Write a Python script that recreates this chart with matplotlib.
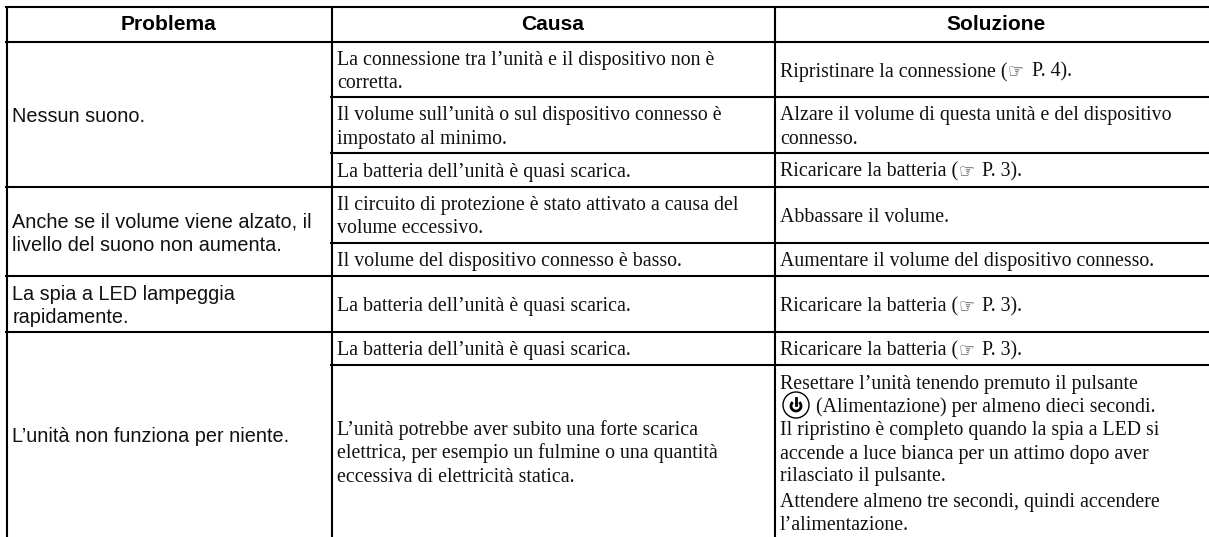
import matplotlib
matplotlib.use("Agg")
import matplotlib.pyplot as plt
from matplotlib.patches import Circle, Arc

# table layout (pixels)
col_lines = [6.5, 331.5, 775]
row_lines = [42, 97.3, 153, 186.7, 242.7, 276, 332, 365, 537]
full_rules = [6.7, 42, 186.7, 276, 332]
part_rules = [97.3, 153, 242.7, 365]
headers = ["Problema", "Causa", "Soluzione"]
header_x = [169, 553, 996]

problems = [
    ("Nessun suono.", 42, 186.7),
    ("Anche se il volume viene alzato, il\nlivello del suono non aumenta.", 186.7, 276),
    ("La spia a LED lampeggia\nrapidamente.", 276, 332),
    ("L’unità non funziona per niente.", 332, 537),
]
causes = [
    "La connessione tra l’unità e il dispositivo non è\ncorretta.",
    "Il volume sull’unità o sul dispositivo connesso è\nimpostato al minimo.",
    "La batteria dell’unità è quasi scarica.",
    "Il circuito di protezione è stato attivato a causa del\nvolume eccessivo.",
    "Il volume del dispositivo connesso è basso.",
    "La batteria dell’unità è quasi scarica.",
    "La batteria dell’unità è quasi scarica.",
    "L’unità potrebbe aver subito una forte scarica\nelettrica, per esempio un fulmine o una quantità\neccessiva di elettricità statica.",
]
solutions = [
    "Ripristinare la connessione (☞ P. 4).",
    "Alzare il volume di questa unità e del dispositivo\nconnesso.",
    "Ricaricare la batteria (☞ P. 3).",
    "Abbassare il volume.",
    "Aumentare il volume del dispositivo connesso.",
    "Ricaricare la batteria (☞ P. 3).",
    "Ricaricare la batteria (☞ P. 3).",
]
last_solution = [
    "Resettare l’unità tenendo premuto il pulsante",
    "(Alimentazione) per almeno dieci secondi.",
    "Il ripristino è completo quando la spia a LED si",
    "accende a luce bianca per un attimo dopo aver",
    "rilasciato il pulsante.",
    "Attendere almeno tre secondi, quindi accendere",
    "l’alimentazione.",
]
last_y = [381.7, 405, 428, 452, 474, 500, 523]

SERIF = "Liberation Serif"
SANS = "Liberation Sans"
FS = 14.3
PITCH = 23.5

fig = plt.figure(figsize=(12.09, 5.37), dpi=100)
ax = fig.add_axes([0, 0, 1, 1])
ax.set_xlim(0, 1209)
ax.set_ylim(537, 0)
ax.axis("off")
rend = fig.canvas.get_renderer()

lw = 1.5
for x in col_lines:
    ax.plot([x, x], [6.7, 537], color="black", lw=lw, solid_capstyle="butt")
for y in full_rules:
    ax.plot([5, 1209], [y, y], color="black", lw=lw, solid_capstyle="butt")
for y in part_rules:
    ax.plot([330, 1209], [y, y], color="black", lw=lw, solid_capstyle="butt")

# header
for x, h in zip(header_x, headers):
    ax.text(x, 22.5, h, family=SANS, weight="bold", fontsize=15.1, ha="center", va="center_baseline")


def put_line(x, y, txt, family):
    # the hand sign is smaller and greyer than the text, so it goes in pieces
    if "☞" not in txt:
        ax.text(x, y, txt, family=family, fontsize=FS, ha="left", va="center_baseline", color="#111111")
        return
    before, after = txt.split("☞")
    t = ax.text(x, y, before, family=family, fontsize=FS, ha="left", va="center_baseline", color="#111111")
    x1 = x + t.get_window_extent(rend).width
    ax.text(x1, y, "☞", family="DejaVu Sans", fontsize=13, ha="left", va="center_baseline", color="#333333")
    ax.text(x1 + 24, y, after.strip(), family=family, fontsize=FS, ha="left", va="center_baseline", color="#111111")


def draw_lines(x, y0, y1, txt, family):
    parts = txt.split("\n")
    mid = (y0 + y1) / 2
    for k, p in enumerate(parts):
        put_line(x, mid + (k - (len(parts) - 1) / 2) * PITCH, p, family)


for txt, y0, y1 in problems:
    draw_lines(12.5, y0, y1, txt, SANS)

for i, txt in enumerate(causes):
    draw_lines(337, row_lines[i], row_lines[i + 1], txt, SERIF)
for i, txt in enumerate(solutions):
    draw_lines(780, row_lines[i], row_lines[i + 1], txt, SERIF)

# last cell with the power button icon
for k, (txt, y) in enumerate(zip(last_solution, last_y)):
    put_line(816 if k == 1 else 780, y, txt, SERIF)
ax.add_patch(Circle((796, 405), 13, fill=False, ec="black", lw=1))
ax.add_patch(Arc((796, 406), 10, 10, theta1=-50, theta2=230, ec="black", lw=2))
ax.plot([796, 796], [398, 405], color="black", lw=2)

fig.savefig("out.png", dpi=100)
